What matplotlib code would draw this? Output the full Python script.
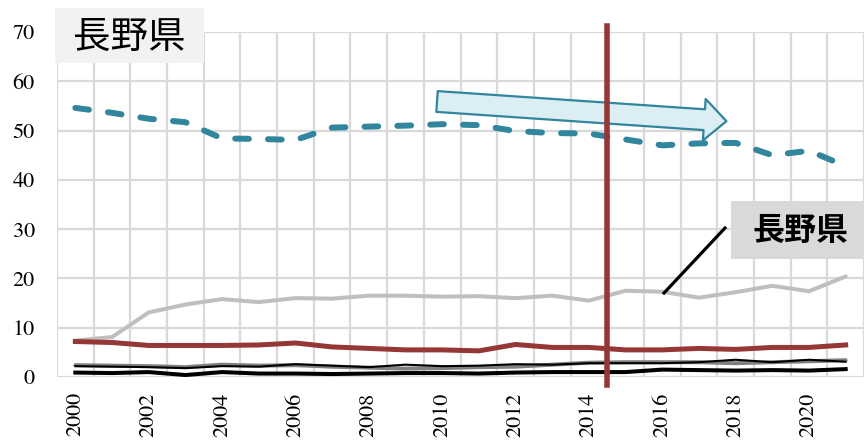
import numpy as np
import matplotlib
matplotlib.use("Agg")
import matplotlib.pyplot as plt
from matplotlib.patches import Rectangle
from matplotlib.lines import Line2D

plt.rcParams['font.family'] = ['FreeSerif', 'DejaVu Serif']

years = list(range(2000, 2022))

teal_dashed = [54.6, 53.6, 52.4, 51.7, 48.4, 48.3, 48.1, 50.6, 50.8, 51.0, 51.3,
               51.1, 49.9, 49.5, 49.4, 48.2, 47.0, 47.4, 47.5, 45.0, 45.9, 42.8]
light_grey = [7.4, 8.1, 13.1, 14.7, 15.8, 15.2, 16.0, 15.9, 16.5, 16.5, 16.3,
              16.4, 16.0, 16.5, 15.5, 17.5, 17.3, 16.1, 17.2, 18.5, 17.4, 20.4]
red = [7.2, 7.0, 6.4, 6.4, 6.4, 6.5, 6.9, 6.1, 5.8, 5.5, 5.5,
       5.3, 6.6, 6.0, 6.0, 5.5, 5.5, 5.8, 5.6, 6.0, 6.0, 6.5]
mid_grey = [2.4, 2.3, 2.2, 2.0, 2.5, 2.3, 2.4, 2.1, 1.9, 1.7, 1.8,
            2.0, 2.1, 2.5, 2.9, 3.0, 3.0, 3.0, 2.8, 3.0, 3.2, 3.4]
black_thin = [2.2, 2.1, 2.0, 1.8, 2.2, 2.1, 2.6, 2.3, 2.0, 2.5, 2.2,
              2.3, 2.6, 2.5, 2.8, 2.8, 2.8, 3.0, 3.5, 3.0, 3.5, 3.1]
black_thick = [0.9, 0.8, 1.0, 0.4, 1.0, 0.7, 0.7, 0.6, 0.7, 0.8, 0.8,
               0.7, 0.9, 1.0, 1.0, 1.0, 1.5, 1.4, 1.3, 1.4, 1.3, 1.6]
y_ticks = [0, 10, 20, 30, 40, 50, 60, 70]
x_ticks = list(range(2000, 2021, 2))
divider_year = 2014.5
title = "長野県"
series_label = "長野県"

W, H = 864, 440
fig = plt.figure(figsize=(W / 100, H / 100), dpi=100)
ax = fig.add_axes([57 / W, 1 - 377 / H, (W - 57) / W, (377 - 32) / H])

ax.set_xlim(1999.5, 1999.5 + (W - 57) / 36.8)
ax.set_ylim(0, 70)
ax.set_yticks(y_ticks)
ax.set_xticks(x_ticks)
ax.set_xticklabels([str(y) for y in x_ticks], rotation=90)
ax.set_xticks(np.arange(1999.5, 2022.5, 1), minor=True)
ax.tick_params(axis='both', which='both', length=0, labelsize=16)
ax.tick_params(axis='y', pad=16)
ax.tick_params(axis='x', pad=11)
ax.grid(axis='y', which='major', color='#d9d9d9', lw=1.6)
ax.grid(axis='x', which='minor', color='#d9d9d9', lw=1.6)
ax.grid(axis='x', which='major', visible=False)
ax.set_axisbelow(True)
for s in ax.spines.values():
    s.set_visible(False)

ax.plot(years, light_grey, color='#bfbfbf', lw=2.9, solid_capstyle='round', zorder=3)
ax.plot(years, mid_grey, color='#808080', lw=2.9, solid_capstyle='round', zorder=3)
ax.plot(years, black_thin, color='#000000', lw=1.5, zorder=4)
ax.plot(years, black_thick, color='#000000', lw=2.9, zorder=4)
ax.plot(years, red, color='#953735', lw=3.6, zorder=5)
ax.plot(years, teal_dashed, color='#31859c', lw=4.3, dashes=(2.3, 3.2),
        dash_capstyle='round', zorder=5)

# trend arrow
ax.annotate('', xy=(17.75 + 2000, 51.9), xytext=(9.86 + 2000, 55.9),
            arrowprops=dict(arrowstyle='simple,head_length=16,head_width=30,tail_width=15',
                            mutation_scale=1, fc='#dbeef4', ec='#31859c', lw=1.6,
                            shrinkA=0, shrinkB=0),
            zorder=6)

# divider line
ax.plot([divider_year, divider_year], [71.2, -1.6], color='#953735', lw=4.0,
        clip_on=False, zorder=7)

def px(x, y):
    return x / W, 1 - y / H

# title box
x0, y0 = px(55, 63)
fig.add_artist(Rectangle((x0, y0), (204 - 55) / W, (63 - 8) / H,
                         transform=fig.transFigure, fc='#f2f2f2', ec='none', zorder=10))
fig.text(129.5 / W, 1 - 37 / H, title, ha='center', va='center', fontsize=27,
         family=['Noto Sans CJK JP'], zorder=11)

# series label box with leader
x0, y0 = px(731, 259)
fig.add_artist(Rectangle((x0, y0), (864 - 731) / W, (259 - 201) / H,
                         transform=fig.transFigure, fc='#d9d9d9', ec='none', zorder=10))
fig.text(800 / W, 1 - 231 / H, series_label, ha='center', va='center', fontsize=23,
         fontweight='bold', family=['Noto Sans CJK JP'], zorder=11)
fig.add_artist(Line2D([664 / W, 725 / W], [1 - 293 / H, 1 - 228 / H],
                      transform=fig.transFigure, color='black', lw=2.3, zorder=11))

fig.savefig('out.png', dpi=100)
